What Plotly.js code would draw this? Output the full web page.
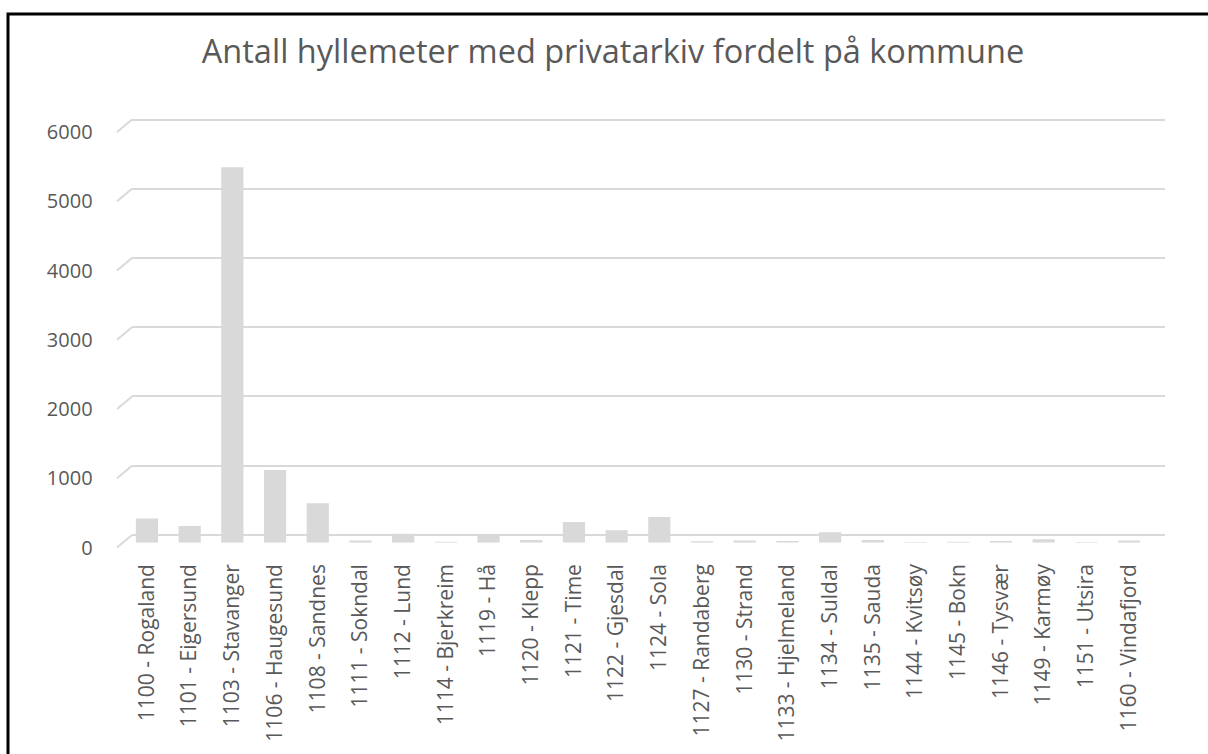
<!DOCTYPE html>
<html>
<head>
<meta charset="utf-8">
<script src="https://cdn.plot.ly/plotly-3.0.1.min.js"></script>
<style>html,body{margin:0;padding:0;background:#fff;}#chart{width:1208px;height:754px;}</style>
</head>
<body>
<div id="chart"></div>
<script>
const categories = [
  "1100 - Rogaland","1101 - Eigersund","1103 - Stavanger","1106 - Haugesund","1108 - Sandnes",
  "1111 - Sokndal","1112 - Lund","1114 - Bjerkreim","1119 - Hå","1120 - Klepp",
  "1121 - Time","1122 - Gjesdal","1124 - Sola","1127 - Randaberg","1130 - Strand",
  "1133 - Hjelmeland","1134 - Suldal","1135 - Sauda","1144 - Kvitsøy","1145 - Bokn",
  "1146 - Tysvær","1149 - Karmøy","1151 - Utsira","1160 - Vindafjord"
];
const hyllemeter = [
  350, 240, 5420, 1050, 570,
  30, 130, 15, 120, 40,
  300, 180, 370, 20, 30,
  25, 150, 40, 10, 15,
  25, 50, 10, 30
];
const yTicks = [0, 1000, 2000, 3000, 4000, 5000, 6000];
const titleText = "Antall hyllemeter med privatarkiv fordelt på kommune";

const W = 1208, H = 754;
const gridColor = "#d9d9d9";
const textColor = "#595959";
const font = "Open Sans, Liberation Sans, sans-serif";
const py = p => 1 - p / H;   // pixel row -> paper fraction
const px = p => p / W;       // pixel column -> paper fraction

const shapes = [];
// black frame
shapes.push({type:"rect", xref:"paper", yref:"paper", x0:px(8), x1:1.02, y0:-0.02, y1:py(14),
  line:{color:"#000", width:3}, fillcolor:"rgba(0,0,0,0)", layer:"above"});
// diagonal floor-to-wall connectors at the left end of each gridline
const unitPx = 415.5 / 6000;
yTicks.forEach(v => {
  const front = 547.5 - v * unitPx;
  shapes.push({type:"line", xref:"paper", yref:"paper", x0:px(117), x1:px(132), y0:py(front), y1:py(front - 12.5),
    line:{color:gridColor, width:2}, layer:"below"});
});

const data = [
  {type:"bar", x:categories, y:hyllemeter, xaxis:"x", yaxis:"y",
   marker:{color:"#d9d9d9", line:{width:0}}, width:0.52, hoverinfo:"x+y"},
  {type:"scatter", x:[0], y:[0], xaxis:"x2", yaxis:"y2", mode:"markers",
   marker:{opacity:0}, hoverinfo:"skip", showlegend:false},
  {type:"scatter", x:[0], y:[0], xaxis:"x3", yaxis:"y3", mode:"markers",
   marker:{opacity:0}, hoverinfo:"skip", showlegend:false}
];

const layout = {
  width: W, height: H,
  margin:{l:0, r:0, t:0, b:0},
  paper_bgcolor:"#fff", plot_bgcolor:"rgba(0,0,0,0)",
  showlegend:false,
  font:{family:font, color:textColor},
  title:{text:titleText, font:{family:font, size:32.5, color:textColor},
    x:px(613), xanchor:"center", xref:"paper", y:py(52), yanchor:"middle", yref:"paper"},
  // bars
  xaxis:{domain:[px(125.6), px(1150.4)], anchor:"y", type:"category",
    showgrid:false, zeroline:false, showline:false,
    tickangle:-90, ticks:"outside", ticklen:12, tickcolor:"rgba(0,0,0,0)",
    tickfont:{family:font, size:21, color:textColor}},
  yaxis:{domain:[py(542.7), py(127.2)], anchor:"x", range:[0,6000],
    showgrid:false, zeroline:false, showline:false, showticklabels:false, ticks:""},
  // back-wall gridlines
  xaxis2:{domain:[px(132), px(1165)], anchor:"y2", range:[0,1],
    showgrid:false, zeroline:false, showline:false, showticklabels:false, ticks:""},
  yaxis2:{domain:[py(535 + 60*unitPx), py(119.5 - 60*unitPx)], anchor:"x2", range:[-60,6060], tickvals:yTicks,
    showgrid:true, gridcolor:gridColor, gridwidth:2, zeroline:false, showline:false,
    showticklabels:false, ticks:""},
  // value labels on the front plane
  xaxis3:{domain:[px(125.6), px(1150.4)], anchor:"y3", range:[0,1],
    showgrid:false, zeroline:false, showline:false, showticklabels:false, ticks:""},
  yaxis3:{domain:[py(547.5), py(132)], anchor:"x3", range:[0,6000],
    tickvals:yTicks, ticktext:yTicks.map(String),
    showgrid:false, zeroline:false, showline:false,
    ticks:"outside", ticklen:28, tickcolor:"rgba(0,0,0,0)",
    tickfont:{family:font, size:20, color:textColor}},
  shapes: shapes
};

Plotly.newPlot("chart", data, layout, {displayModeBar:false, staticPlot:true});
</script>
</body>
</html>
